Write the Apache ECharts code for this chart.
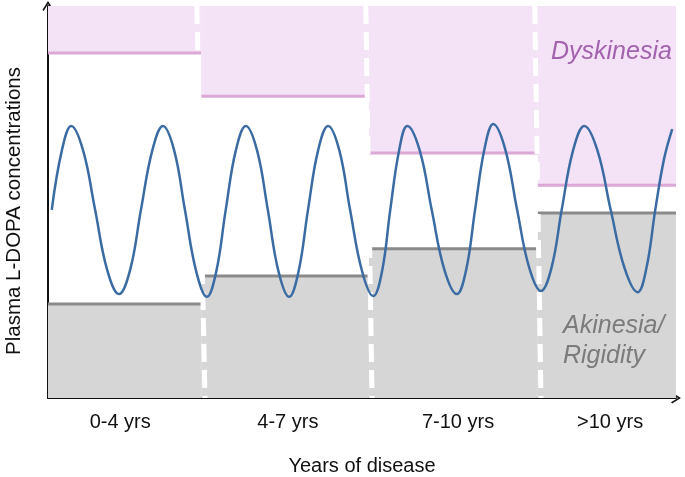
<!DOCTYPE html>
<html>
<head>
<meta charset="utf-8">
<script src="https://cdn.jsdelivr.net/npm/echarts@6/dist/echarts.min.js"></script>
<style>
html, body { margin: 0; padding: 0; background: #fff; }
#chart { width: 685px; height: 477px; }
</style>
</head>
<body>
<div id="chart"></div>
<script>
// stages of disease along the time axis (arbitrary units 0-100)
var segBounds = [0, 24.4, 51.1, 78.0, 100];
var segLabels = ['0-4 yrs', '4-7 yrs', '7-10 yrs', '>10 yrs'];
var labelPos = [11.5, 38.2, 65.3, 89.5];
// threshold above which dyskinesia appears, below which akinesia/rigidity
var dyskinesiaLevel = [88.0, 77.0, 62.5, 54.3];
var akinesiaLevel = [24.0, 31.1, 38.1, 47.2];
// white dashed dividers between stages (x at top, x at bottom)
var dividerTop = [23.7, 50.6, 77.5];
var dividerBottom = [25.0, 51.6, 78.5];
// plasma L-DOPA oscillation
var levodopaX = [0.6, 2.2, 3.7, 5.6, 7.5, 9.4, 11.3, 13.1, 14.8, 16.6,
	18.3, 20.1, 21.8, 23.6, 25.3, 26.8, 28.3, 29.9, 31.5, 33.3,
	35.0, 36.7, 38.4, 39.9, 41.4, 43.0, 44.6, 46.4, 48.1, 50.0,
	51.8, 53.2, 54.5, 55.9, 57.2, 59.2, 61.1, 63.1, 65.1, 66.6,
	68.0, 69.5, 70.9, 72.8, 74.7, 76.6, 78.5, 80.2, 81.8, 83.6,
	85.4, 87.5, 89.6, 91.8, 93.9, 95.3, 96.7, 98.1, 99.4];
var levodopaY = [48.0, 63.1, 69.4, 63.1, 48.0, 32.8, 26.5, 32.8, 48.0, 63.1,
	69.4, 63.1, 48.0, 32.3, 25.8, 32.3, 48.0, 63.1, 69.4, 63.1,
	48.0, 32.3, 25.8, 32.3, 48.0, 63.1, 69.4, 63.1, 48.0, 32.4,
	26.0, 32.4, 48.0, 63.1, 69.4, 63.1, 48.0, 32.8, 26.5, 32.8,
	48.0, 63.5, 69.9, 63.5, 48.0, 33.4, 27.3, 33.4, 48.0, 63.1,
	69.4, 63.1, 48.0, 33.2, 27.0, 33.2, 48.0, 61.0, 68.6];

var Y_MAX = 100;
var font = 'Liberation Sans, Arial, Helvetica, sans-serif';
var arrowPath = 'path://M5,0 L10,8 L8.9,9 L5,2.6 L1.1,9 L0,8 Z';

var pinkData = [], grayData = [];
for (var i = 0; i < segLabels.length; i++) {
	pinkData.push([segBounds[i], segBounds[i + 1], dyskinesiaLevel[i], Y_MAX]);
	grayData.push([segBounds[i], segBounds[i + 1], 0, akinesiaLevel[i]]);
}
var sineData = levodopaX.map(function (x, i) { return [x, levodopaY[i]]; });

function bandRenderer(fill, edgeColor, edgeAtTop) {
	return function (params, api) {
		var x0 = api.value(0), x1 = api.value(1);
		var lo = api.value(2), hi = api.value(3);
		var tl = api.coord([x0, hi]);
		var br = api.coord([x1, lo]);
		var edgeY = edgeAtTop ? tl[1] : br[1];
		return {
			type: 'group',
			children: [{
				type: 'rect',
				shape: { x: tl[0], y: tl[1], width: br[0] - tl[0], height: br[1] - tl[1] },
				style: { fill: fill }
			}, {
				type: 'line',
				shape: { x1: tl[0], y1: edgeY, x2: br[0], y2: edgeY },
				style: { stroke: edgeColor, lineWidth: 3 }
			}]
		};
	};
}

var dividerSeries = dividerTop.map(function (xt, i) {
	return {
		type: 'line',
		data: [[xt, Y_MAX], [dividerBottom[i], 0]],
		showSymbol: false,
		silent: true,
		z: 4,
		lineStyle: { color: '#ffffff', width: 5, type: [18, 8] }
	};
});

var chart = echarts.init(document.getElementById('chart'));
var option = {
	animation: false,
	grid: { left: 48, right: 9, top: 6, bottom: 79, outerBoundsMode: 'none', containLabel: false },
	xAxis: {
		type: 'value',
		min: 0,
		max: 100,
		splitLine: { show: false },
		axisTick: { show: false },
		axisLine: {
			lineStyle: { color: '#111', width: 2 },
			symbol: ['none', arrowPath],
			symbolSize: [11, 10]
		},
		axisLabel: {
			customValues: labelPos,
			margin: 14,
			color: '#111',
			fontSize: 20,
			fontFamily: font,
			formatter: function (v) {
				var idx = labelPos.indexOf(v);
				return idx >= 0 ? segLabels[idx] : '';
			}
		},
		name: 'Years of disease',
		nameLocation: 'middle',
		nameGap: 58,
		nameTextStyle: { color: '#111', fontSize: 20, fontFamily: font }
	},
	yAxis: {
		type: 'value',
		min: 0,
		max: Y_MAX,
		splitLine: { show: false },
		axisTick: { show: false },
		axisLabel: { show: false },
		axisLine: {
			lineStyle: { color: '#111', width: 2 },
			symbol: ['none', arrowPath],
			symbolSize: [11, 10]
		},
		name: 'Plasma L-DOPA concentrations',
		nameLocation: 'middle',
		nameGap: 23,
		nameTextStyle: { color: '#111', fontSize: 20.5, fontFamily: font, padding: [0, 18, 0, 0] }
	},
	graphic: [{
		type: 'text',
		left: 551,
		top: 40,
		z: 10,
		style: { text: 'Dyskinesia', fill: '#a262ad', font: 'italic 25px ' + font }
	}, {
		type: 'text',
		left: 563,
		top: 311,
		z: 10,
		style: { text: 'Akinesia/\nRigidity', fill: '#7b7b7b', font: 'italic 25px ' + font, lineHeight: 30 }
	}],
	series: [{
		type: 'custom',
		name: 'Dyskinesia',
		renderItem: bandRenderer('#f4e2f6', '#dca8d5', false),
		encode: { x: [0, 1], y: [2, 3] },
		data: pinkData,
		silent: true,
		z: 1
	}, {
		type: 'custom',
		name: 'Akinesia/Rigidity',
		renderItem: bandRenderer('#d6d6d6', '#8a8a8a', true),
		encode: { x: [0, 1], y: [2, 3] },
		data: grayData,
		silent: true,
		z: 1
	}].concat(dividerSeries).concat([{
		type: 'line',
		name: 'Plasma L-DOPA',
		data: sineData,
		smooth: 0.4,
		showSymbol: false,
		z: 6,
		lineStyle: { color: '#3a6ca3', width: 2.5 }
	}])
};
chart.setOption(option);
</script>
</body>
</html>
